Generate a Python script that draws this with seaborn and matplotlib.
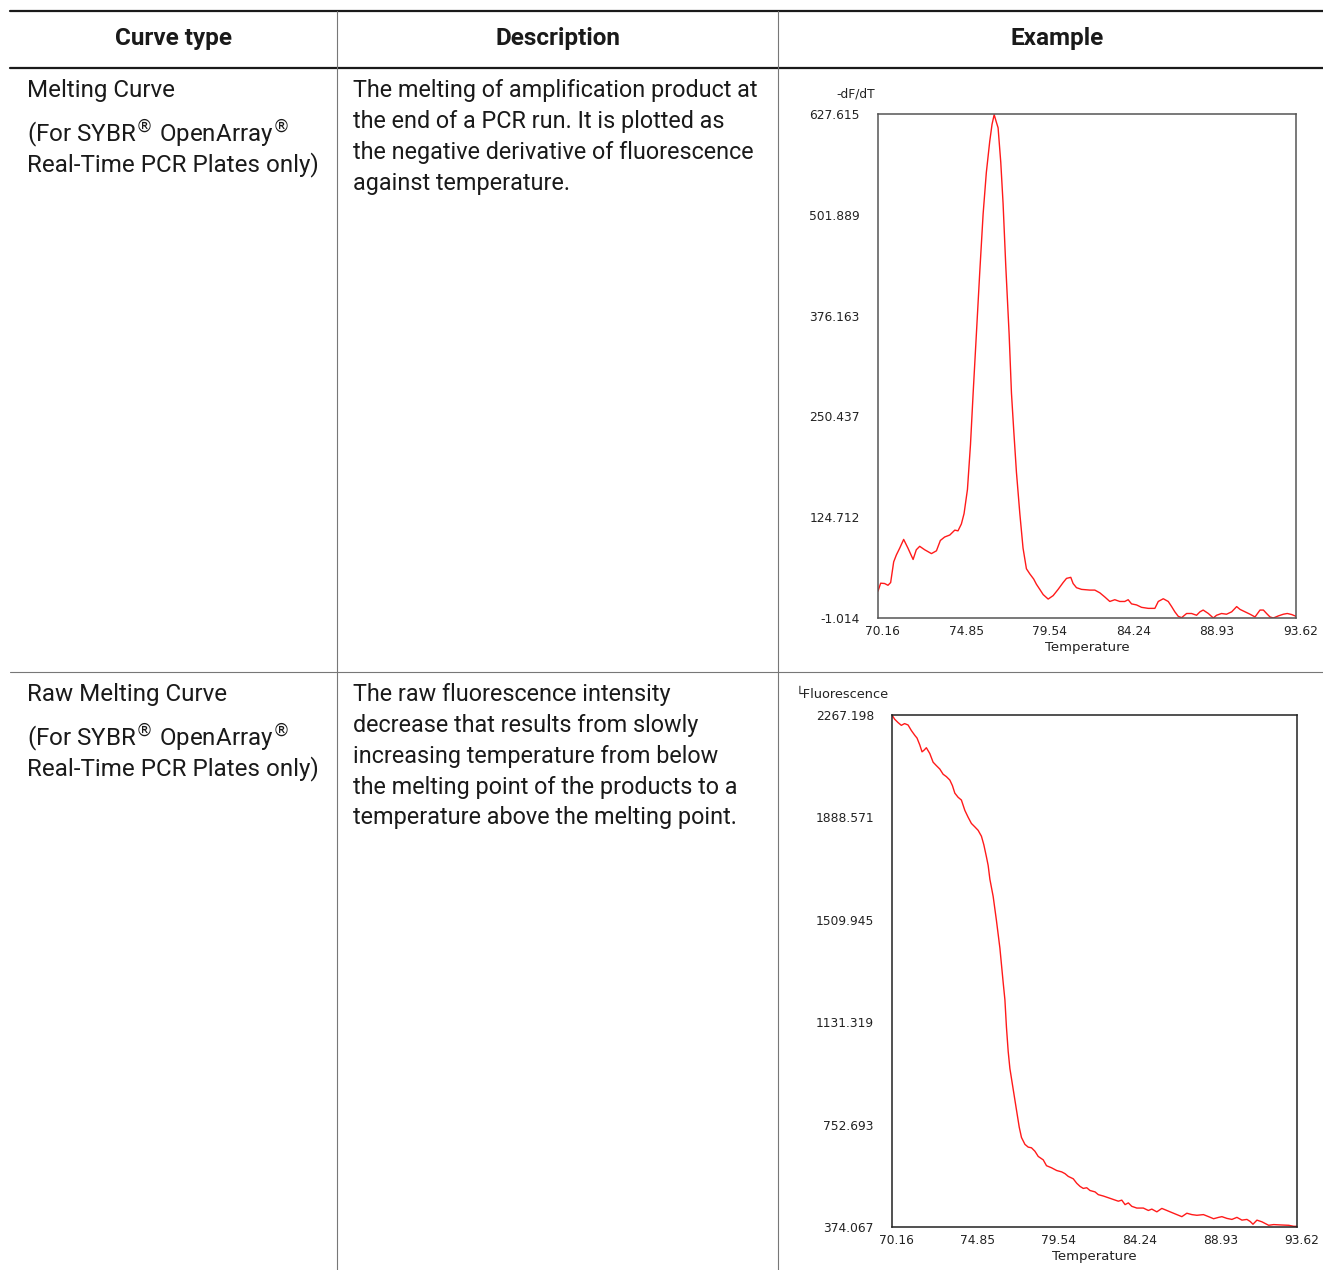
import matplotlib
matplotlib.use("Agg")
import matplotlib.pyplot as plt
from matplotlib.lines import Line2D
from matplotlib.transforms import ScaledTranslation
import seaborn as sns
import pandas as pd

# ---------------- data ----------------
melt_temp = [70.16, 70.31, 70.53, 70.72, 70.87, 71.04, 71.19, 71.38, 71.60, 71.84,
             72.13, 72.31, 72.50, 72.78, 73.16, 73.44, 73.66, 73.90, 74.19, 74.47,
             74.65, 74.84, 74.99, 75.18, 75.35, 75.50, 75.68, 75.87, 76.06, 76.24,
             76.43, 76.56, 76.68, 76.81, 76.90, 77.05, 77.18, 77.33, 77.52, 77.65,
             77.78, 77.93, 78.12, 78.30, 78.49, 78.68, 78.90, 79.05, 79.24, 79.43,
             79.71, 79.99, 80.27, 80.55, 80.74, 80.98, 81.11, 81.30, 81.58, 82.05,
             82.33, 82.61, 82.89, 83.17, 83.45, 83.73, 84.01, 84.20, 84.39, 84.67,
             84.95, 85.33, 85.70, 85.89, 86.17, 86.45, 86.64, 86.82, 87.01, 87.20,
             87.48, 87.76, 88.04, 88.23, 88.41, 88.70, 88.98, 89.16, 89.44, 89.72,
             90.01, 90.29, 90.48, 90.76, 91.04, 91.32, 91.60, 91.79, 91.97, 92.16,
             92.35, 92.63, 92.91, 93.13, 93.38, 93.62]
melt_dfdt = [32.5, 42.4, 42.0, 39.8, 43.2, 69.0, 77.6, 86.2, 97.0, 86.2,
             72.0, 84.1, 88.4, 84.1, 79.3, 82.8, 95.7, 100.0, 102.5, 108.6,
             107.7, 116.3, 129.2, 159.3, 215.1, 279.6, 352.6, 430.0, 503.0, 554.6,
             593.3, 614.7, 626.8, 616.9, 610.4, 567.5, 515.9, 438.6, 352.6, 279.6,
             232.3, 180.7, 129.2, 86.2, 60.4, 54.0, 47.5, 41.1, 34.7, 28.2,
             22.6, 26.9, 34.7, 43.2, 48.4, 49.7, 42.0, 36.8, 34.7, 33.8,
             33.8, 30.4, 25.2, 19.6, 21.8, 19.6, 19.6, 21.8, 16.6, 15.3,
             12.3, 11.0, 11.0, 19.6, 23.0, 19.6, 13.2, 6.7, 1.1, -0.6,
             4.6, 4.6, 2.4, 6.7, 8.9, 4.6, -1.0, 2.4, 4.6, 3.7,
             6.7, 13.2, 9.7, 6.7, 3.7, 0.3, 8.9, 8.9, 4.6, 0.3,
             -1.0, 1.6, 3.7, 4.6, 3.3, 1.1]

raw_temp = [70.16, 70.31, 70.51, 70.70, 70.89, 71.09, 71.28, 71.48, 71.61, 71.77,
            71.90, 72.02, 72.15, 72.35, 72.54, 72.73, 72.93, 73.12, 73.31, 73.51,
            73.66, 73.80, 73.99, 74.18, 74.38, 74.57, 74.76, 74.96, 75.15, 75.34,
            75.48, 75.63, 75.73, 75.83, 76.02, 76.21, 76.41, 76.60, 76.70, 76.79,
            76.89, 76.99, 77.18, 77.37, 77.53, 77.66, 77.86, 78.05, 78.24, 78.44,
            78.63, 78.92, 79.11, 79.40, 79.70, 79.99, 80.18, 80.37, 80.66, 80.86,
            81.05, 81.24, 81.44, 81.63, 81.92, 82.11, 82.40, 82.69, 82.98, 83.27,
            83.47, 83.66, 83.85, 84.05, 84.34, 84.72, 85.01, 85.21, 85.50, 85.79,
            86.08, 86.37, 86.66, 86.95, 87.24, 87.53, 87.82, 88.20, 88.50, 88.79,
            89.08, 89.27, 89.56, 89.85, 90.14, 90.43, 90.72, 90.91, 91.07, 91.30,
            91.59, 91.98, 92.27, 92.65, 93.14, 93.43, 93.62]
raw_fluor = [2267.2, 2251.9, 2239.2, 2229.0, 2235.4, 2230.3, 2209.9, 2192.1, 2181.9, 2156.4,
             2131.0, 2137.3, 2146.2, 2124.6, 2092.8, 2080.0, 2067.3, 2048.2, 2039.3, 2026.6,
             2006.2, 1978.2, 1962.9, 1952.7, 1914.5, 1889.1, 1866.2, 1853.4, 1840.7, 1819.0,
             1787.2, 1742.7, 1710.9, 1659.9, 1596.3, 1507.2, 1405.3, 1278.0, 1214.3, 1112.5,
             1023.4, 959.7, 883.3, 807.0, 743.3, 705.1, 679.6, 669.4, 666.9, 654.1,
             635.0, 622.3, 600.7, 593.0, 582.9, 577.8, 571.4, 561.2, 552.3, 535.8,
             524.3, 516.7, 519.2, 509.0, 503.9, 493.7, 488.6, 482.3, 475.9, 469.5,
             473.4, 456.8, 463.2, 450.5, 444.1, 444.1, 435.2, 440.3, 430.1, 442.8,
             435.2, 427.5, 419.9, 412.3, 425.0, 419.9, 417.4, 419.9, 412.3, 404.6,
             409.7, 412.3, 405.9, 402.1, 409.7, 399.5, 402.1, 394.4, 384.3, 399.5,
             393.2, 380.4, 383.0, 381.7, 380.4, 376.6, 376.6]

x_ticks = [70.16, 74.85, 79.54, 84.24, 88.93, 93.62]
melt_yticks = [-1.014, 124.712, 250.437, 376.163, 501.889, 627.615]
raw_yticks = [374.067, 752.693, 1131.319, 1509.945, 1888.571, 2267.198]

headers = ["Curve type", "Description", "Example"]
row1_type = ["Melting Curve", r"(For SYBR$^{\circledR}$ OpenArray$^{\circledR}$",
             "Real-Time PCR Plates only)"]
row1_desc = ["The melting of amplification product at",
             "the end of a PCR run. It is plotted as",
             "the negative derivative of fluorescence",
             "against temperature."]
row2_type = ["Raw Melting Curve", r"(For SYBR$^{\circledR}$ OpenArray$^{\circledR}$",
             "Real-Time PCR Plates only)"]
row2_desc = ["The raw fluorescence intensity",
             "decrease that results from slowly",
             "increasing temperature from below",
             "the melting point of the products to a",
             "temperature above the melting point."]

# ---------------- figure ----------------
sns.set_style("white")
plt.rcParams['font.family'] = ['Roboto', 'DejaVu Sans']
plt.rcParams['mathtext.fontset'] = 'dejavusans'

W, H = 1323, 1270
fig = plt.figure(figsize=(W / 100, H / 100), dpi=100)


def fx(x):
    return x / W


def fy(y):
    return 1 - y / H


def hline(y, x0, x1, lw, color):
    fig.add_artist(Line2D([fx(x0), fx(x1)], [fy(y), fy(y)], lw=lw, color=color,
                          transform=fig.transFigure))


def vline(x, y0, y1, lw, color):
    fig.add_artist(Line2D([fx(x), fx(x)], [fy(y0), fy(y1)], lw=lw, color=color,
                          transform=fig.transFigure))


# table rules
hline(11, 10, 1323, 1.6, "#1a1a1a")
hline(68, 10, 1323, 1.6, "#1a1a1a")
hline(672, 10, 1323, 0.8, "#777777")
vline(337, 11, 1270, 0.8, "#777777")
vline(778, 11, 1270, 0.8, "#777777")

TXT = "#1a1a1a"
for h, xc in zip(headers, [174, 558, 1057]):
    fig.text(fx(xc), fy(39), h, ha="center", va="center", fontsize=17.5,
             fontweight="bold", color=TXT)

for lines, ys in [(row1_type, [91, 134, 165]), (row2_type, [695, 738, 769])]:
    for t, y in zip(lines, ys):
        fig.text(fx(27), fy(y), t, ha="left", va="center", fontsize=17.4, color=TXT)

for lines, y0 in [(row1_desc, 91), (row2_desc, 695)]:
    for i, t in enumerate(lines):
        fig.text(fx(353), fy(y0 + 30.7 * i), t, ha="left", va="center",
                 fontsize=16.8, color=TXT)

CHART_FONT = ['DejaVu Sans']
CFS = 8.8
CCOL = "#222222"
shift = ScaledTranslation(0.045, 0, fig.dpi_scale_trans)


def style_axes(ax, yticks, spine_color):
    ax.set_xlim(x_ticks[0], x_ticks[-1])
    ax.set_ylim(yticks[0], yticks[-1])
    ax.set_xticks(x_ticks)
    ax.set_xticklabels([f"{v:.2f}" for v in x_ticks], family=CHART_FONT,
                       fontsize=CFS, color=CCOL)
    ax.set_yticks(yticks)
    ax.set_yticklabels([f"{v:.3f}" for v in yticks], family=CHART_FONT,
                       fontsize=CFS, color=CCOL)
    ax.tick_params(axis="both", length=0)
    ax.tick_params(axis="y", pad=13)
    ax.tick_params(axis="x", pad=5)
    for lab in ax.get_xticklabels():
        lab.set_transform(lab.get_transform() + shift)
    for s in ax.spines.values():
        s.set_visible(True)
        s.set_color(spine_color)
        s.set_linewidth(1.1)
    ax.set_xlabel("Temperature", family=CHART_FONT, fontsize=CFS + 0.7,
                  color=CCOL, labelpad=2)
    ax.set_ylabel("")
    ax.grid(False)


# chart 1: melting curve
ax1 = fig.add_axes([fx(878), fy(618), (1296 - 878) / W, (618 - 114) / H])
df1 = pd.DataFrame({"Temperature": melt_temp, "dFdT": melt_dfdt})
sns.lineplot(data=df1, x="Temperature", y="dFdT", ax=ax1, color="#ff1a1a",
             linewidth=1.0)
style_axes(ax1, melt_yticks, "#555555")
fig.text(fx(856), fy(94), "-dF/dT", ha="center", va="center",
         family=CHART_FONT, fontsize=CFS, color=CCOL)

# chart 2: raw melting curve
ax2 = fig.add_axes([fx(892), fy(1227), (1297 - 892) / W, (1227 - 715) / H])
df2 = pd.DataFrame({"Temperature": raw_temp, "Fluorescence": raw_fluor})
sns.lineplot(data=df2, x="Temperature", y="Fluorescence", ax=ax2,
             color="#ff1a1a", linewidth=1.0)
style_axes(ax2, raw_yticks, "#222222")
fig.text(fx(796), fy(695), "\u2514Fluorescence", ha="left", va="center",
         family=CHART_FONT, fontsize=CFS + 0.5, color=CCOL)

fig.savefig("out.png", dpi=100, facecolor="white")
